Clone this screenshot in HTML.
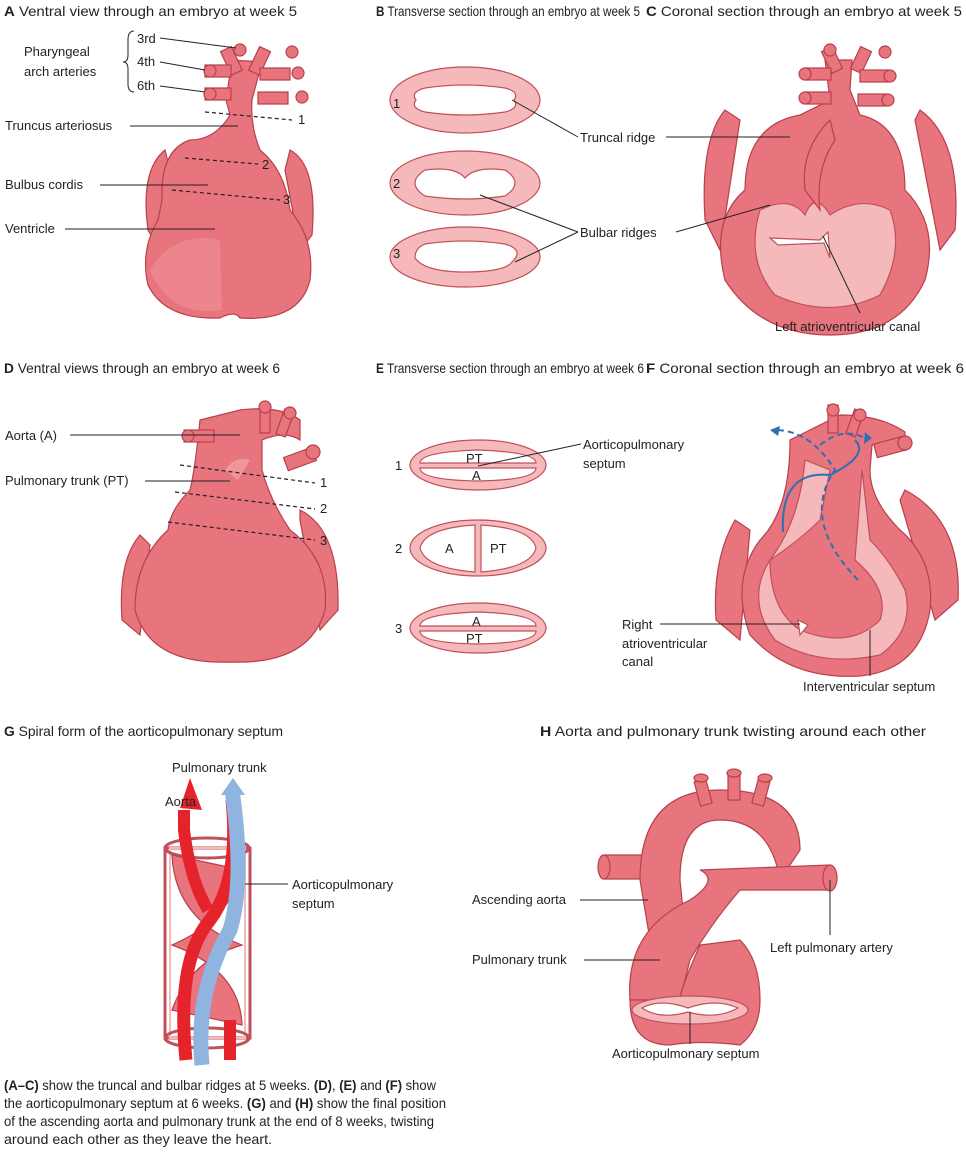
<!DOCTYPE html>
<html><head><meta charset="utf-8"><style>
body{margin:0;background:#fff}
svg{display:block}
text{font-family:"Liberation Sans",sans-serif;font-size:13px;fill:#222}
.tt{font-size:14px}
.b{font-weight:bold}
.h{fill:#e8747d;stroke:#b8404c;stroke-width:1.2}
.hl{fill:#f0959b;stroke:none}
.s{fill:#f6b9bb;stroke:#c0505a;stroke-width:1.2}
.w{fill:#fff;stroke:#c0505a;stroke-width:1.2}
.l{stroke:#222;stroke-width:1;fill:none}
.d{stroke:#222;stroke-width:1.2;stroke-dasharray:4 3;fill:none}
</style></head><body>
<svg width="966" height="1153" viewBox="0 0 966 1153">
<rect width="966" height="1153" fill="#fff"/>
<!-- titles -->
<text class="tt" x="4" y="16" textLength="293" lengthAdjust="spacingAndGlyphs"><tspan class="b">A</tspan>  Ventral view through an embryo at week 5</text>
<text class="tt" x="376" y="16" textLength="264" lengthAdjust="spacingAndGlyphs"><tspan class="b">B</tspan>  Transverse section through an embryo at week 5</text>
<text class="tt" x="646" y="16" textLength="316" lengthAdjust="spacingAndGlyphs"><tspan class="b">C</tspan>  Coronal section through an embryo at week 5</text>
<text class="tt" x="4" y="373" textLength="276" lengthAdjust="spacingAndGlyphs"><tspan class="b">D</tspan>  Ventral views through an embryo at week 6</text>
<text class="tt" x="376" y="373" textLength="268" lengthAdjust="spacingAndGlyphs"><tspan class="b">E</tspan>  Transverse section through an embryo at week 6</text>
<text class="tt" x="646" y="373" textLength="318" lengthAdjust="spacingAndGlyphs"><tspan class="b">F</tspan>  Coronal section through an embryo at week 6</text>
<text class="tt" x="4" y="736" textLength="279" lengthAdjust="spacingAndGlyphs"><tspan class="b">G</tspan>  Spiral form of the aorticopulmonary septum</text>
<text class="tt" x="540" y="736" textLength="386" lengthAdjust="spacingAndGlyphs"><tspan class="b">H</tspan>  Aorta and pulmonary trunk twisting around each other</text>

<!-- A heart -->
<g>
<path class="h" d="M165,150 Q140,170 148,230 L160,250 L170,170Z"/>
<path class="h" d="M290,150 Q318,165 312,235 L300,250 L285,170Z"/>
<path class="h" d="M232,60 L226,100 L230,115 Q215,140 190,140 Q160,150 162,200 L158,220 Q140,250 148,285 Q165,320 220,318 Q235,310 240,318 Q300,322 310,280 Q315,240 290,210 Q285,170 260,150 Q250,125 252,100 L262,62Z"/>
<path class="hl" d="M150,270 Q175,230 220,240 L222,310 Q170,318 150,270Z" opacity=".5"/>
<g class="h"><rect x="225" y="48" width="12" height="26" transform="rotate(-25 231 60)"/><rect x="254" y="48" width="12" height="26" transform="rotate(25 260 60)"/><rect x="205" y="65" width="26" height="12"/><rect x="260" y="68" width="30" height="12"/><rect x="205" y="88" width="26" height="12"/><rect x="258" y="92" width="30" height="12"/></g>
<circle class="h" cx="240" cy="50" r="6"/><circle class="h" cx="292" cy="52" r="6"/><circle class="h" cx="210" cy="71" r="6"/><circle class="h" cx="298" cy="73" r="6"/><circle class="h" cx="210" cy="94" r="6"/><circle class="h" cx="302" cy="97" r="6"/>
</g>
<text x="24" y="56">Pharyngeal</text><text x="24" y="76">arch arteries</text>
<path class="l" d="M134,31 Q128,31 128,40 L128,55 Q128,62 123,62 Q128,62 128,69 L128,84 Q128,92 134,92"/>
<text x="137" y="43">3rd</text><text x="137" y="66">4th</text><text x="137" y="90">6th</text>
<path class="l" d="M160,38 L236,48 M160,62 L205,70 M160,86 L205,92"/>
<text x="5" y="130">Truncus arteriosus</text><path class="l" d="M130,126 L238,126"/>
<text x="5" y="189">Bulbus cordis</text><path class="l" d="M100,185 L208,185"/>
<text x="5" y="233">Ventricle</text><path class="l" d="M65,229 L215,229"/>
<path class="d" d="M205,112 L292,120"/><text x="298" y="124">1</text>
<path class="d" d="M185,158 L258,164"/><text x="262" y="169">2</text>
<path class="d" d="M172,190 L280,200"/><text x="283" y="204">3</text>

<!-- B -->
<g>
<ellipse class="s" cx="465" cy="100" rx="75" ry="33"/>
<path class="w" d="M425,88 Q465,82 505,88 Q520,92 514,100 Q520,108 505,112 Q465,118 425,112 Q410,108 416,100 Q410,92 425,88Z"/>
<ellipse class="s" cx="465" cy="183" rx="75" ry="32"/>
<path class="w" d="M425,170 Q455,166 465,178 Q475,166 505,170 Q525,183 505,196 Q465,202 425,196 Q405,183 425,170Z"/>
<ellipse class="s" cx="465" cy="257" rx="75" ry="30"/>
<path class="w" d="M425,244 Q465,238 505,244 Q525,250 512,262 Q505,272 465,272 Q425,272 415,258 Q415,248 425,244Z"/>
</g>
<text x="393" y="108">1</text><text x="393" y="188">2</text><text x="393" y="258">3</text>
<text x="580" y="142">Truncal ridge</text><path class="l" d="M512,100 L578,137"/>
<text x="580" y="237">Bulbar ridges</text><path class="l" d="M480,195 L578,232 M515,262 L578,232"/>

<!-- C -->
<g>
<path class="h" d="M725,110 Q700,140 705,220 L720,250 L740,120Z"/>
<path class="h" d="M920,110 Q962,140 955,230 L940,250 L915,120Z"/>
<path class="h" d="M800,115 Q745,125 745,190 Q710,220 725,280 Q760,335 830,335 Q900,335 925,280 Q940,225 905,190 Q905,125 860,115 L850,90 L852,60 L825,60 L830,100Z"/>
<path class="s" d="M760,210 Q790,195 805,215 Q815,190 830,215 Q860,195 890,210 Q905,250 880,295 Q830,320 775,295 Q745,260 760,210Z"/>
<path class="w" d="M770,238 L820,240 L828,232 L830,258 L824,243 L778,245Z"/>
<path class="h" d="M805,190 Q800,150 830,120 L835,140 Q815,170 820,210Z"/>
<g class="h"><rect x="826" y="48" width="12" height="24" transform="rotate(-25 832 60)"/><rect x="855" y="48" width="12" height="24" transform="rotate(25 861 60)"/><rect x="805" y="68" width="26" height="12"/><rect x="860" y="70" width="28" height="12"/><rect x="805" y="92" width="26" height="12"/><rect x="858" y="94" width="28" height="12"/></g>
<circle class="h" cx="830" cy="50" r="6"/><circle class="h" cx="885" cy="52" r="6"/><circle class="h" cx="805" cy="74" r="6"/><circle class="h" cx="890" cy="76" r="6"/><circle class="h" cx="805" cy="98" r="6"/><circle class="h" cx="888" cy="100" r="6"/>
</g>
<path class="l" d="M666,137 L790,137 M676,232 L770,205 M823,236 L860,313"/>
<text x="775" y="331">Left atrioventricular canal</text>

<!-- D -->
<g>
<path class="h" d="M140,535 Q118,560 122,620 L140,635 L150,545Z"/>
<path class="h" d="M300,510 Q340,530 338,610 L320,630 L300,520Z"/>
<path class="h" d="M200,420 Q195,470 190,490 Q170,510 168,530 Q135,560 135,610 Q150,665 230,662 Q310,665 325,610 Q330,560 290,530 Q270,500 262,470 L262,440 Q285,430 300,440 L300,420 Q280,405 240,410Z"/>
<g class="h"><rect x="260" y="405" width="10" height="28"/><rect x="280" y="410" width="10" height="26" transform="rotate(20 285 423)"/><rect x="184" y="430" width="30" height="12"/><rect x="285" y="452" width="30" height="14" transform="rotate(-20 300 459)"/></g>
<circle class="h" cx="265" cy="407" r="6"/><circle class="h" cx="290" cy="413" r="6"/><circle class="h" cx="188" cy="436" r="6"/><circle class="h" cx="313" cy="452" r="7"/>
<path class="hl" d="M225,470 Q235,455 250,460 L238,480Z"/>
</g>
<text x="5" y="440">Aorta (A)</text><path class="l" d="M70,435 L240,435"/>
<text x="5" y="485">Pulmonary trunk (PT)</text><path class="l" d="M145,481 L230,481"/>
<path class="d" d="M180,465 L315,483"/><text x="320" y="487">1</text>
<path class="d" d="M175,492 L315,509"/><text x="320" y="513">2</text>
<path class="d" d="M168,522 L315,540"/><text x="320" y="545">3</text>

<!-- E -->
<g>
<ellipse class="s" cx="478" cy="465" rx="68" ry="25"/>
<path class="w" d="M420,463 Q420,452 478,450 Q536,452 536,463Z"/><path class="w" d="M420,468 Q420,480 478,481 Q536,480 536,468Z"/>
<ellipse class="s" cx="478" cy="548" rx="68" ry="28"/>
<path class="w" d="M475,525 Q425,528 420,548 Q425,568 475,572Z"/><path class="w" d="M481,525 Q531,528 536,548 Q531,568 481,572Z"/>
<ellipse class="s" cx="478" cy="628" rx="68" ry="25"/>
<path class="w" d="M420,626 Q420,614 478,612 Q536,614 536,626Z"/><path class="w" d="M420,631 Q420,643 478,644 Q536,643 536,631Z"/>
</g>
<text x="466" y="463">PT</text><text x="472" y="480">A</text>
<text x="445" y="553">A</text><text x="490" y="553">PT</text>
<text x="472" y="626">A</text><text x="466" y="643">PT</text>
<text x="395" y="470">1</text><text x="395" y="553">2</text><text x="395" y="633">3</text>
<text x="583" y="449">Aorticopulmonary</text><text x="583" y="468">septum</text>
<path class="l" d="M478,466 L581,444"/>

<!-- F -->
<g>
<path class="h" d="M735,520 Q712,560 716,620 L740,640 L750,530Z"/>
<path class="h" d="M905,490 Q962,520 958,600 L935,620 L900,500Z"/>
<path class="h" d="M790,440 Q790,510 760,540 Q730,580 750,635 Q790,680 860,676 Q920,670 930,610 Q935,560 900,530 Q870,500 870,470 L872,445 Q890,440 905,450 L905,432 Q880,415 840,415Z"/>
<path class="s" d="M770,560 Q800,540 820,520 L830,470 L805,460 Q800,520 770,560 Q745,600 775,640 Q820,668 880,655 Q915,630 905,590 Q890,560 870,540 L862,470 L855,560 Q890,590 880,620 Q850,650 800,630 Q770,610 770,560Z"/>
<path class="w" d="M798,620 L808,625 L800,635Z"/>
<g class="h"><rect x="828" y="405" width="10" height="28"/><rect x="850" y="410" width="10" height="26" transform="rotate(20 855 423)"/><rect x="875" y="440" width="30" height="14" transform="rotate(-15 890 447)"/></g>
<circle class="h" cx="833" cy="410" r="6"/><circle class="h" cx="860" cy="415" r="6"/><circle class="h" cx="905" cy="443" r="7"/>
<path d="M783,532 Q780,470 830,475 Q870,455 855,440" fill="none" stroke="#2f6fb3" stroke-width="2"/>
<path d="M858,580 Q800,520 835,470 Q810,430 775,430" fill="none" stroke="#2f6fb3" stroke-width="2" stroke-dasharray="6 4"/>
<path d="M820,445 Q845,425 868,440" fill="none" stroke="#2f6fb3" stroke-width="2" stroke-dasharray="6 4"/>
<path d="M770,430 L780,426 L778,436Z M872,438 L865,432 L864,444Z" fill="#2f6fb3"/>
</g>
<text x="622" y="629">Right</text><text x="622" y="648">atrioventricular</text><text x="622" y="666">canal</text>
<path class="l" d="M660,624 L800,624 M870,630 L870,676"/>
<text x="803" y="691">Interventricular septum</text>

<!-- G -->
<g>
<rect x="165" y="848" width="85" height="190" fill="none" stroke="#c0505a" stroke-width="3"/>
<rect x="170" y="848" width="75" height="190" fill="none" stroke="#f6b9bb" stroke-width="2"/>
<ellipse cx="207" cy="848" rx="42" ry="10" fill="none" stroke="#c0505a" stroke-width="3"/>
<ellipse cx="207" cy="1038" rx="42" ry="10" fill="none" stroke="#c0505a" stroke-width="3"/>
<path class="h" d="M172,855 L242,870 Q230,920 172,945 Q240,970 242,1025 L172,1010 Q190,960 242,945 Q175,920 172,855Z"/>
<path d="M186,1060 Q176,960 210,920 Q240,880 232,800" fill="none" stroke="#e5232b" stroke-width="13"/>
<path d="M180,808 L190,778 L202,810Z" fill="#e5232b"/>
<path d="M202,1065 Q195,990 230,930 Q245,880 232,790" fill="none" stroke="#8fb4df" stroke-width="15"/>
<path d="M221,795 L233,778 L245,795Z" fill="#8fb4df"/>
<path d="M230,1060 L230,1020" stroke="#e5232b" stroke-width="12"/>
<path d="M184,810 L184,830 Q190,880 208,910" fill="none" stroke="#e5232b" stroke-width="12"/>
</g>
<text x="172" y="772">Pulmonary trunk</text>
<text x="165" y="806">Aorta</text>
<text x="292" y="889">Aorticopulmonary</text><text x="292" y="908">septum</text>
<path class="l" d="M245,884 L288,884"/>

<!-- H -->
<g>
<rect x="600" y="855" width="70" height="24" class="h" rx="4"/>
<ellipse class="h" cx="604" cy="867" rx="6" ry="12"/>
<path class="h" d="M640,880 Q640,790 720,790 Q800,790 800,850 L780,880 Q770,820 720,820 Q680,820 680,880 L685,930 L650,940Z"/>
<path class="h" d="M630,1000 Q625,930 690,900 Q720,880 700,870 L830,865 L830,890 L740,890 Q710,925 690,960 L680,1000Z"/>
<path class="h" d="M630,1000 Q630,1045 670,1045 Q700,1040 740,1045 Q760,1030 760,1000 Q760,960 740,940 L700,945 Q680,990 680,1000Z"/>
<ellipse class="s" cx="690" cy="1010" rx="58" ry="14"/>
<path class="w" d="M642,1008 Q660,998 688,1008 Q716,998 738,1008 Q716,1020 688,1012 Q660,1020 642,1008Z"/>
<ellipse class="h" cx="830" cy="878" rx="7" ry="13"/>
<g class="h"><rect x="697" y="780" width="12" height="25" transform="rotate(-15 703 792)"/><rect x="728" y="775" width="12" height="25"/><rect x="755" y="780" width="12" height="25" transform="rotate(15 761 792)"/></g>
<ellipse class="h" cx="701" cy="778" rx="7" ry="4"/><ellipse class="h" cx="734" cy="773" rx="7" ry="4"/><ellipse class="h" cx="765" cy="778" rx="7" ry="4"/>
</g>
<text x="472" y="904">Ascending aorta</text><path class="l" d="M580,900 L648,900"/>
<text x="472" y="964">Pulmonary trunk</text><path class="l" d="M584,960 L660,960"/>
<text x="770" y="952">Left pulmonary artery</text><path class="l" d="M830,880 L830,935"/>
<text x="612" y="1058">Aorticopulmonary septum</text><path class="l" d="M690,1012 L690,1044"/>

<!-- caption -->
<text class="tt" x="4" y="1090" textLength="432" lengthAdjust="spacingAndGlyphs"><tspan class="b">(A–C)</tspan> show the truncal and bulbar ridges at 5 weeks. <tspan class="b">(D)</tspan>, <tspan class="b">(E)</tspan> and <tspan class="b">(F)</tspan> show</text>
<text class="tt" x="4" y="1108" textLength="442" lengthAdjust="spacingAndGlyphs">the aorticopulmonary septum at 6 weeks. <tspan class="b">(G)</tspan> and <tspan class="b">(H)</tspan> show the final position</text>
<text class="tt" x="4" y="1126" textLength="430" lengthAdjust="spacingAndGlyphs">of the ascending  aorta and pulmonary trunk at the end of 8 weeks, twisting</text>
<text class="tt" x="4" y="1144" textLength="268" lengthAdjust="spacingAndGlyphs">around each other as they leave the heart.</text>
</svg>
</body></html>
